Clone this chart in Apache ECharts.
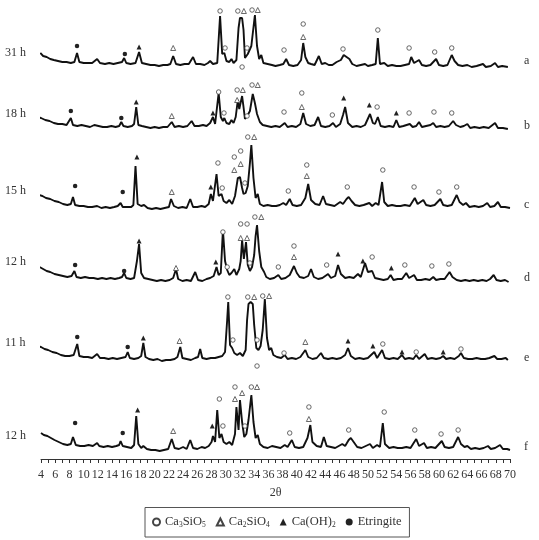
<!DOCTYPE html>
<html><head><meta charset="utf-8">
<script src="https://cdn.jsdelivr.net/npm/echarts@6/dist/echarts.min.js"></script>
<style>html,body{margin:0;padding:0;background:#fff}#c{width:539px;height:540px}</style>
</head><body><div id="c"></div>
<script>
// ---- data: [2θ, intensity above each pattern's own baseline] ----
const sampleTimes = ['31 h', '18 h', '15 h', '12 h', '11 h', '12 h'];
const sampleLetters = ['a', 'b', 'c', 'd', 'e', 'f'];
const xTicks = { min: 4, max: 70, step: 2 };

const patternA = [[3.9,15],[4.3,12],[4.8,11],[5.3,9],[5.8,8],[6.4,7],[7.0,6],[7.6,6],[8.2,5],[8.7,6],[9.07,15],[9.4,6],[10.0,5],[10.6,5],[11.2,5],[11.9,9],[12.3,5],[13.0,4],[13.6,5],[14.2,4],[14.8,5],[15.4,6],[15.7,10],[16.0,5],[16.6,4],[17.3,5],[17.8,16],[18.2,5],[18.8,4],[19.4,3],[20.0,3],[20.6,2],[21.2,3],[21.8,3],[22.2,4],[22.6,12],[23.0,4],[23.6,3],[24.2,4],[24.8,4],[25.4,11],[25.8,4],[26.4,4],[27.0,3],[27.5,5],[27.8,7],[28.2,4],[28.8,5],[29.2,52],[29.5,14],[29.8,15],[30.1,7],[30.5,6],[30.8,9],[31.1,5],[31.5,8],[31.8,40],[32.0,50],[32.3,50],[32.5,38],[32.7,10],[32.9,8],[33.1,14],[33.3,12],[33.6,22],[34.1,53],[34.4,22],[34.7,9],[35.0,13],[35.3,5],[35.9,4],[36.5,3],[37.0,2],[37.6,3],[38.1,4],[38.5,9],[38.9,3],[39.5,2],[40.1,3],[40.6,8],[40.9,25],[41.2,11],[41.6,5],[42.0,4],[42.5,3],[43.1,12],[43.5,4],[44.0,5],[44.5,3],[45.0,3],[45.6,6],[46.2,8],[46.6,13],[47.0,11],[47.4,9],[47.8,4],[48.4,2],[49.0,3],[49.6,4],[50.0,2],[50.6,3],[51.1,4],[51.4,30],[51.7,4],[52.3,5],[52.8,2],[53.4,3],[54.0,2],[54.6,2],[55.2,3],[55.8,4],[56.1,11],[56.5,5],[57.2,8],[57.6,3],[58.2,2],[58.8,3],[59.6,9],[60.0,3],[60.6,2],[61.2,3],[61.8,13],[62.2,7],[62.7,3],[63.3,2],[64.0,3],[64.6,1],[65.3,2],[66.2,4],[66.6,1],[67.3,2],[67.9,5],[68.3,1],[68.9,2],[69.7,1]];

const patternB = [[3.0,14],[3.5,12],[4.0,11],[4.6,9],[5.2,8],[5.8,6],[6.4,5],[7.0,5],[7.6,4],[8.2,11],[8.5,4],[9.1,3],[9.7,4],[10.3,3],[10.9,2],[11.5,4],[12.1,3],[12.7,2],[13.3,2],[13.9,3],[14.5,2],[15.0,3],[15.3,7],[15.6,3],[16.2,2],[16.8,3],[17.1,5],[17.4,22],[17.7,4],[18.2,3],[18.8,2],[19.4,1],[20.0,2],[20.6,1],[21.2,2],[21.8,2],[22.4,7],[22.8,2],[23.4,3],[24.0,2],[24.6,3],[25.2,8],[25.6,3],[26.2,3],[26.8,4],[27.3,3],[27.8,6],[28.2,12],[28.5,5],[29.0,36],[29.3,12],[29.6,8],[29.8,11],[30.1,6],[30.5,5],[30.8,9],[31.1,6],[31.4,12],[31.7,29],[31.9,20],[32.3,33],[32.5,22],[32.7,10],[32.9,11],[33.1,14],[33.4,18],[33.8,35],[34.1,26],[34.4,15],[34.8,7],[35.2,4],[35.8,3],[36.4,2],[37.0,3],[37.6,2],[38.3,6],[38.7,2],[39.3,3],[39.9,2],[40.5,5],[40.9,16],[41.3,5],[41.9,3],[42.5,4],[43.0,12],[43.4,3],[44.0,2],[44.6,3],[45.1,6],[45.5,2],[46.1,5],[46.5,14],[46.8,22],[47.2,6],[47.8,2],[48.4,3],[49.0,2],[49.6,4],[50.3,15],[50.7,6],[51.0,5],[51.4,12],[51.8,3],[52.4,2],[53.0,3],[53.6,2],[54.0,9],[54.4,2],[55.0,3],[55.9,5],[56.3,2],[56.8,3],[57.2,7],[57.6,2],[58.2,3],[58.8,4],[59.2,6],[59.6,2],[60.2,3],[60.8,2],[61.4,3],[62.0,8],[62.4,4],[63.0,2],[63.5,3],[64.0,5],[64.4,1],[65.0,2],[65.7,1],[66.3,2],[67.0,1],[67.9,6],[68.3,1],[69.0,1],[69.7,0]];

const patternC = [[3.3,15],[3.7,13],[4.2,12],[4.7,10],[5.3,9],[5.9,7],[6.5,6],[7.1,4],[7.7,3],[8.2,4],[8.5,11],[8.8,3],[9.4,2],[10.0,2],[10.6,1],[11.2,1],[11.9,2],[12.5,0],[13.1,1],[13.7,0],[14.3,1],[14.8,2],[15.2,5],[15.5,1],[16.1,1],[16.7,1],[17.0,3],[17.3,42],[17.6,4],[18.1,2],[18.5,3],[19.0,0],[19.6,-1],[20.2,0],[20.8,-1],[21.4,0],[22.0,1],[22.3,9],[22.7,2],[23.3,0],[23.9,1],[24.5,0],[25.0,9],[25.4,1],[26.0,1],[26.6,2],[27.1,1],[27.6,4],[27.9,14],[28.2,7],[28.7,34],[29.0,12],[29.4,14],[29.7,7],[30.1,5],[30.5,8],[30.9,4],[31.3,12],[31.7,30],[32.0,31],[32.3,20],[32.5,14],[32.8,15],[33.1,22],[33.4,45],[33.6,63],[33.9,30],[34.2,10],[34.5,14],[34.8,4],[35.3,2],[35.9,3],[36.5,2],[37.1,2],[37.6,3],[38.1,5],[38.5,3],[39.0,9],[39.4,3],[40.0,2],[40.6,3],[41.2,10],[41.6,24],[42.0,8],[42.6,4],[43.2,3],[43.7,12],[44.1,4],[44.7,3],[45.3,2],[46.1,6],[46.5,4],[47.0,9],[47.3,11],[47.7,7],[48.2,3],[48.8,2],[49.4,3],[50.2,5],[50.6,2],[51.1,5],[51.5,3],[52.0,26],[52.3,6],[52.8,2],[53.4,3],[54.0,2],[54.6,2],[55.2,3],[55.9,2],[56.6,10],[57.0,4],[57.8,8],[58.2,3],[58.8,2],[59.4,3],[60.2,9],[60.6,3],[61.2,2],[61.8,3],[62.5,13],[62.9,6],[63.4,3],[63.8,5],[64.3,1],[65.0,2],[65.6,1],[66.2,2],[66.8,5],[67.2,1],[67.8,2],[68.3,6],[68.7,1],[69.3,1],[70.0,0]];

const patternD = [[3.4,16],[3.8,14],[4.3,12],[4.8,10],[5.3,9],[5.9,7],[6.5,6],[7.1,5],[7.7,4],[8.3,5],[8.7,10],[9.0,4],[9.6,3],[10.2,4],[10.8,3],[11.4,3],[12.0,2],[12.6,3],[13.2,2],[13.8,3],[14.4,2],[15.0,3],[15.4,4],[15.7,8],[16.0,3],[16.6,2],[17.1,3],[17.5,20],[17.8,37],[18.1,8],[18.5,3],[19.1,2],[19.7,1],[20.3,0],[20.9,1],[21.5,0],[22.1,1],[22.6,3],[23.0,12],[23.3,2],[23.9,0],[24.5,1],[25.1,0],[25.7,9],[26.1,1],[26.7,0],[27.3,2],[27.8,3],[28.3,5],[28.7,14],[29.0,6],[29.3,8],[29.6,51],[29.9,20],[30.2,11],[30.5,6],[30.8,8],[31.2,12],[31.5,6],[31.9,12],[32.1,20],[32.3,41],[32.55,22],[32.85,39],[33.1,16],[33.4,10],[33.7,14],[34.0,26],[34.2,45],[34.4,56],[34.7,30],[35.0,14],[35.4,9],[35.7,4],[36.2,2],[36.8,3],[37.4,6],[37.8,2],[38.4,3],[39.0,6],[39.6,15],[40.0,8],[40.4,4],[41.0,3],[41.6,5],[42.0,12],[42.4,4],[43.0,2],[43.6,3],[44.4,7],[44.8,3],[45.4,5],[45.8,16],[46.2,7],[46.8,3],[47.4,4],[48.0,3],[48.6,7],[49.0,4],[49.6,18],[50.0,9],[50.6,10],[51.0,3],[51.6,2],[52.2,1],[52.8,2],[53.2,6],[53.6,1],[54.2,2],[54.8,2],[55.4,8],[55.8,3],[56.5,6],[56.9,1],[57.5,1],[58.1,2],[58.7,1],[59.2,4],[59.6,1],[60.2,2],[60.8,2],[61.5,9],[61.9,4],[62.5,1],[63.1,0],[63.7,1],[64.3,0],[64.9,1],[65.5,0],[66.1,1],[66.7,0],[67.2,2],[67.7,6],[68.1,1],[68.7,0],[69.3,1],[69.8,-1]];

const patternE = [[3.6,14],[4.0,13],[4.5,11],[5.0,10],[5.6,8],[6.2,7],[6.8,5],[7.4,4],[8.0,4],[8.6,5],[9.1,16],[9.4,4],[10.0,3],[10.6,3],[11.2,2],[11.9,6],[12.3,2],[12.9,2],[13.5,1],[14.1,2],[14.7,1],[15.3,2],[15.9,3],[16.2,8],[16.5,2],[17.1,1],[17.7,2],[18.1,4],[18.4,17],[18.7,3],[19.2,1],[19.8,0],[20.4,1],[21.0,-1],[21.6,0],[22.2,0],[22.8,1],[23.2,3],[23.6,13],[23.9,2],[24.5,1],[25.1,0],[25.7,2],[26.1,3],[26.4,11],[26.7,2],[27.3,1],[27.9,2],[28.5,2],[29.0,3],[29.5,4],[29.9,8],[30.2,40],[30.35,58],[30.6,15],[30.9,12],[31.2,7],[31.6,5],[32.0,7],[32.4,4],[32.8,10],[33.0,40],[33.2,56],[33.5,58],[33.8,56],[34.0,35],[34.3,12],[34.6,10],[34.9,14],[35.2,30],[35.5,61],[35.8,22],[36.1,10],[36.4,12],[36.7,5],[37.2,3],[37.8,2],[38.3,5],[38.7,1],[39.3,2],[39.9,1],[40.5,3],[41.2,10],[41.6,3],[42.2,1],[42.8,2],[43.4,7],[43.8,2],[44.4,1],[45.0,2],[45.6,1],[46.2,2],[46.8,5],[47.2,12],[47.6,4],[48.2,1],[48.8,2],[49.4,1],[50.0,2],[50.9,8],[51.3,2],[52.0,10],[52.4,2],[53.0,1],[53.6,2],[54.2,1],[54.8,5],[55.2,1],[55.8,2],[56.4,1],[56.8,5],[57.2,1],[58.0,6],[58.4,1],[59.0,2],[59.6,1],[60.2,2],[60.6,4],[61.0,1],[61.6,2],[62.2,1],[62.8,4],[63.1,7],[63.5,2],[64.1,1],[64.7,1],[65.3,2],[65.9,1],[66.5,1],[67.1,2],[67.8,4],[68.2,1],[68.8,1],[69.4,2],[69.7,0]];

const patternF = [[4.0,17],[4.4,15],[4.9,14],[5.4,12],[5.9,10],[6.5,8],[7.1,6],[7.7,5],[8.2,6],[8.5,13],[8.9,5],[9.5,4],[10.1,4],[10.7,5],[11.3,4],[11.9,7],[12.2,4],[12.8,3],[13.4,4],[14.0,3],[14.6,4],[15.0,5],[15.2,9],[15.5,4],[16.1,3],[16.7,2],[17.1,5],[17.4,34],[17.7,6],[18.1,2],[18.4,4],[18.9,1],[19.5,0],[20.1,0],[20.7,-1],[21.3,0],[21.9,1],[22.4,11],[22.8,2],[23.4,1],[24.0,3],[24.5,1],[25.0,10],[25.4,2],[26.0,1],[26.6,3],[27.1,2],[27.6,4],[28.0,8],[28.2,14],[28.5,8],[28.8,40],[29.1,12],[29.4,16],[29.7,8],[30.1,6],[30.5,8],[30.9,5],[31.3,16],[31.5,43],[31.8,20],[32.0,50],[32.3,28],[32.6,13],[32.9,16],[33.2,30],[33.6,55],[33.9,28],[34.2,12],[34.5,15],[34.8,6],[35.3,3],[35.9,2],[36.5,4],[37.1,3],[37.7,2],[38.3,5],[38.7,3],[39.3,10],[39.7,3],[40.3,2],[40.9,3],[41.5,12],[41.9,25],[42.2,8],[42.8,4],[43.4,3],[43.8,13],[44.2,4],[44.8,3],[45.4,2],[46.4,6],[46.8,4],[47.3,10],[47.6,12],[48.0,8],[48.5,3],[49.1,2],[49.7,4],[50.3,6],[50.7,2],[51.3,5],[51.7,3],[52.1,27],[52.4,6],[53.0,2],[53.6,3],[54.2,2],[54.8,2],[55.4,3],[56.0,2],[56.8,11],[57.2,4],[57.9,7],[58.3,2],[58.9,3],[59.5,2],[60.4,9],[60.8,3],[61.4,2],[62.0,3],[62.7,13],[63.1,6],[63.6,3],[64.0,4],[64.5,1],[65.1,2],[65.7,1],[66.3,2],[66.9,4],[67.3,1],[67.9,2],[68.6,5],[69.0,1],[69.6,1],[70.0,0]];

// phase markers: [pattern index, 2θ, height above that pattern's baseline]
const markC3S = [[0,29.2,57],[0,29.9,20],[0,31.7,57],[0,33.0,20],[0,32.3,1],[0,33.7,58],[0,38.2,18],[0,40.9,44],[0,46.5,19],[0,51.4,38],[0,55.8,20],[0,59.4,16],[0,61.8,20],
 [1,29.0,37],[1,29.75,16],[1,31.6,39],[1,33.0,13],[1,33.7,44],[1,38.2,17],[1,40.7,36],[1,45.0,14],[1,51.3,22],[1,55.8,16],[1,59.3,17],[1,61.8,16],
 [2,28.9,45],[2,29.5,20],[2,31.2,51],[2,32.1,57],[2,32.7,25],[2,33.1,71],[2,38.8,17],[2,41.4,43],[2,47.1,21],[2,52.1,38],[2,56.5,21],[2,60.0,16],[2,62.5,21],
 [3,29.6,49],[3,30.2,14],[3,32.1,57],[3,33.0,57],[3,33.4,18],[3,34.1,64],[3,37.4,14],[3,39.6,35],[3,44.2,16],[3,50.6,24],[3,55.2,16],[3,59.0,15],[3,61.4,17],
 [4,30.3,63],[4,31.0,20],[4,33.1,63],[4,34.4,20],[4,34.4,-6],[4,35.2,64],[4,38.2,7],[4,52.1,16],[4,56.8,8],[4,63.1,11],
 [5,29.1,51],[5,29.6,24],[5,31.3,63],[5,32.7,24],[5,33.6,63],[5,39.0,17],[5,41.7,43],[5,47.3,20],[5,52.3,38],[5,56.6,20],[5,60.3,16],[5,62.7,20]];
const markC2S = [[0,32.55,57],[0,34.5,58],[0,22.6,20],[0,40.9,31],
 [1,22.4,13],[1,32.4,39],[1,31.6,29],[1,34.5,44],[1,40.7,22],
 [2,22.4,16],[2,31.2,38],[2,32.1,44],[2,34.0,71],[2,41.4,32],
 [3,23.0,13],[3,32.1,43],[3,33.0,43],[3,35.0,64],[3,39.6,24],
 [4,23.5,19],[4,34.0,63],[4,36.1,64],[4,41.2,18],
 [5,22.6,19],[5,31.3,51],[5,32.3,57],[5,34.4,63],[5,41.7,31]];
const markCH = [[0,17.8,21],
 [1,17.4,27],[1,28.2,16],[1,46.6,31],[1,50.2,24],[1,54.0,16],
 [2,17.5,51],[2,27.9,21],
 [3,17.8,40],[3,28.6,19],[3,45.8,27],[3,49.3,20],[3,53.3,13],
 [4,18.4,22],[4,47.2,19],[4,50.7,14],[4,54.8,8],[4,60.6,8],
 [5,17.6,40],[5,28.1,24]];
const markEtt = [[0,9.07,22],[0,15.8,14],[1,8.2,18],[1,15.3,11],[2,8.8,22],[2,15.5,16],[3,8.8,16],[3,15.7,10],[4,9.1,23],[4,16.2,13],[5,8.8,27],[5,15.5,17]];

const phaseNames = ['Ca3SiO5', 'Ca2SiO4', 'Ca(OH)2', 'Etringite'];

// ---- layout (vertical offsets of the stacked patterns, axis units) ----
const patterns = [patternA, patternB, patternC, patternD, patternE, patternF];
const offsets = [391, 330, 251, 178, 99, 9];
const FONT = 'Liberation Serif';

const chart = echarts.init(document.getElementById('c'), null, { renderer: 'canvas' });

const lineSeries = patterns.map((p, i) => ({
  type: 'line', name: 'p' + i, showSymbol: false, symbol: 'none', clip: false, silent: true,
  lineStyle: { color: '#111', width: 1.9 }, legendHoverLink: false,
  data: p.map(d => [d[0], offsets[i] + d[1]])
}));
const toPts = arr => arr.map(m => [m[1], offsets[m[0]] + m[2]]);
const markSeries = [
  { type: 'scatter', name: phaseNames[0], symbol: 'circle', symbolSize: 4.5, data: toPts(markC3S),
    itemStyle: { color: '#fff', borderColor: '#444', borderWidth: 0.8, opacity: 1 } },
  { type: 'scatter', name: phaseNames[1], symbol: 'triangle', symbolSize: 5, data: toPts(markC2S),
    itemStyle: { color: '#fff', borderColor: '#444', borderWidth: 0.8, opacity: 1 } },
  { type: 'scatter', name: phaseNames[2], symbol: 'triangle', symbolSize: 5, data: toPts(markCH),
    itemStyle: { color: '#222', opacity: 1 } },
  { type: 'scatter', name: phaseNames[3], symbol: 'circle', symbolSize: 4.5, data: toPts(markEtt),
    itemStyle: { color: '#222', opacity: 1 } }
];
markSeries.forEach(s => { s.z = 5; s.silent = true; s.clip = false; });

const legendText = {
  'Ca3SiO5': 'Ca{s|3}SiO{s|5}',
  'Ca2SiO4': 'Ca{s|2}SiO{s|4}',
  'Ca(OH)2': 'Ca(OH){s|2}',
  'Etringite': 'Etringite'
};

const leftY = [54, 115, 192, 263, 344, 437];
const rightY = [62, 127, 206, 279, 359, 448];
const graphics = [];
sampleTimes.forEach((t, i) => graphics.push({ type: 'text', left: 5, top: leftY[i] - 7,
  style: { text: t, font: '12px "' + FONT + '"', fill: '#333' } }));
sampleLetters.forEach((t, i) => graphics.push({ type: 'text', left: 524, top: rightY[i] - 7,
  style: { text: t, font: '12px "' + FONT + '"', fill: '#333' } }));

chart.setOption({
  animation: false,
  backgroundColor: '#fff',
  grid: { left: 41, right: 29, top: 0, bottom: 81, containLabel: false },
  xAxis: {
    type: 'value', min: xTicks.min, max: xTicks.max, interval: xTicks.step,
    name: '2θ', nameLocation: 'middle', nameGap: 28,
    nameTextStyle: { fontFamily: FONT, fontSize: 12, color: '#333' },
    axisLine: { show: true, onZero: false, lineStyle: { color: '#333', width: 1 } },
    axisTick: { show: true, length: 4, lineStyle: { color: '#333' } },
    minorTick: { show: true, splitNumber: 2, length: 4, lineStyle: { color: '#333' } },
    axisLabel: { fontFamily: FONT, fontSize: 12, color: '#333', margin: 10 },
    splitLine: { show: false }, minorSplitLine: { show: false }
  },
  yAxis: { type: 'value', min: 0, max: 459, show: false, splitLine: { show: false } },
  legend: {
    data: phaseNames, left: 145, bottom: 3, orient: 'horizontal',
    itemWidth: 7, itemHeight: 7, itemGap: 10,
    padding: [8, 8, 8, 7], borderColor: '#555', borderWidth: 1,
    textStyle: { fontFamily: FONT, fontSize: 12.5, color: '#333',
      rich: { s: { fontFamily: FONT, fontSize: 7.5, color: '#333', verticalAlign: 'bottom', padding: [6, 0, 0, 0] } } },
    formatter: n => legendText[n]
  },
  graphic: graphics,
  series: lineSeries.concat(markSeries)
});
</script></body></html>
